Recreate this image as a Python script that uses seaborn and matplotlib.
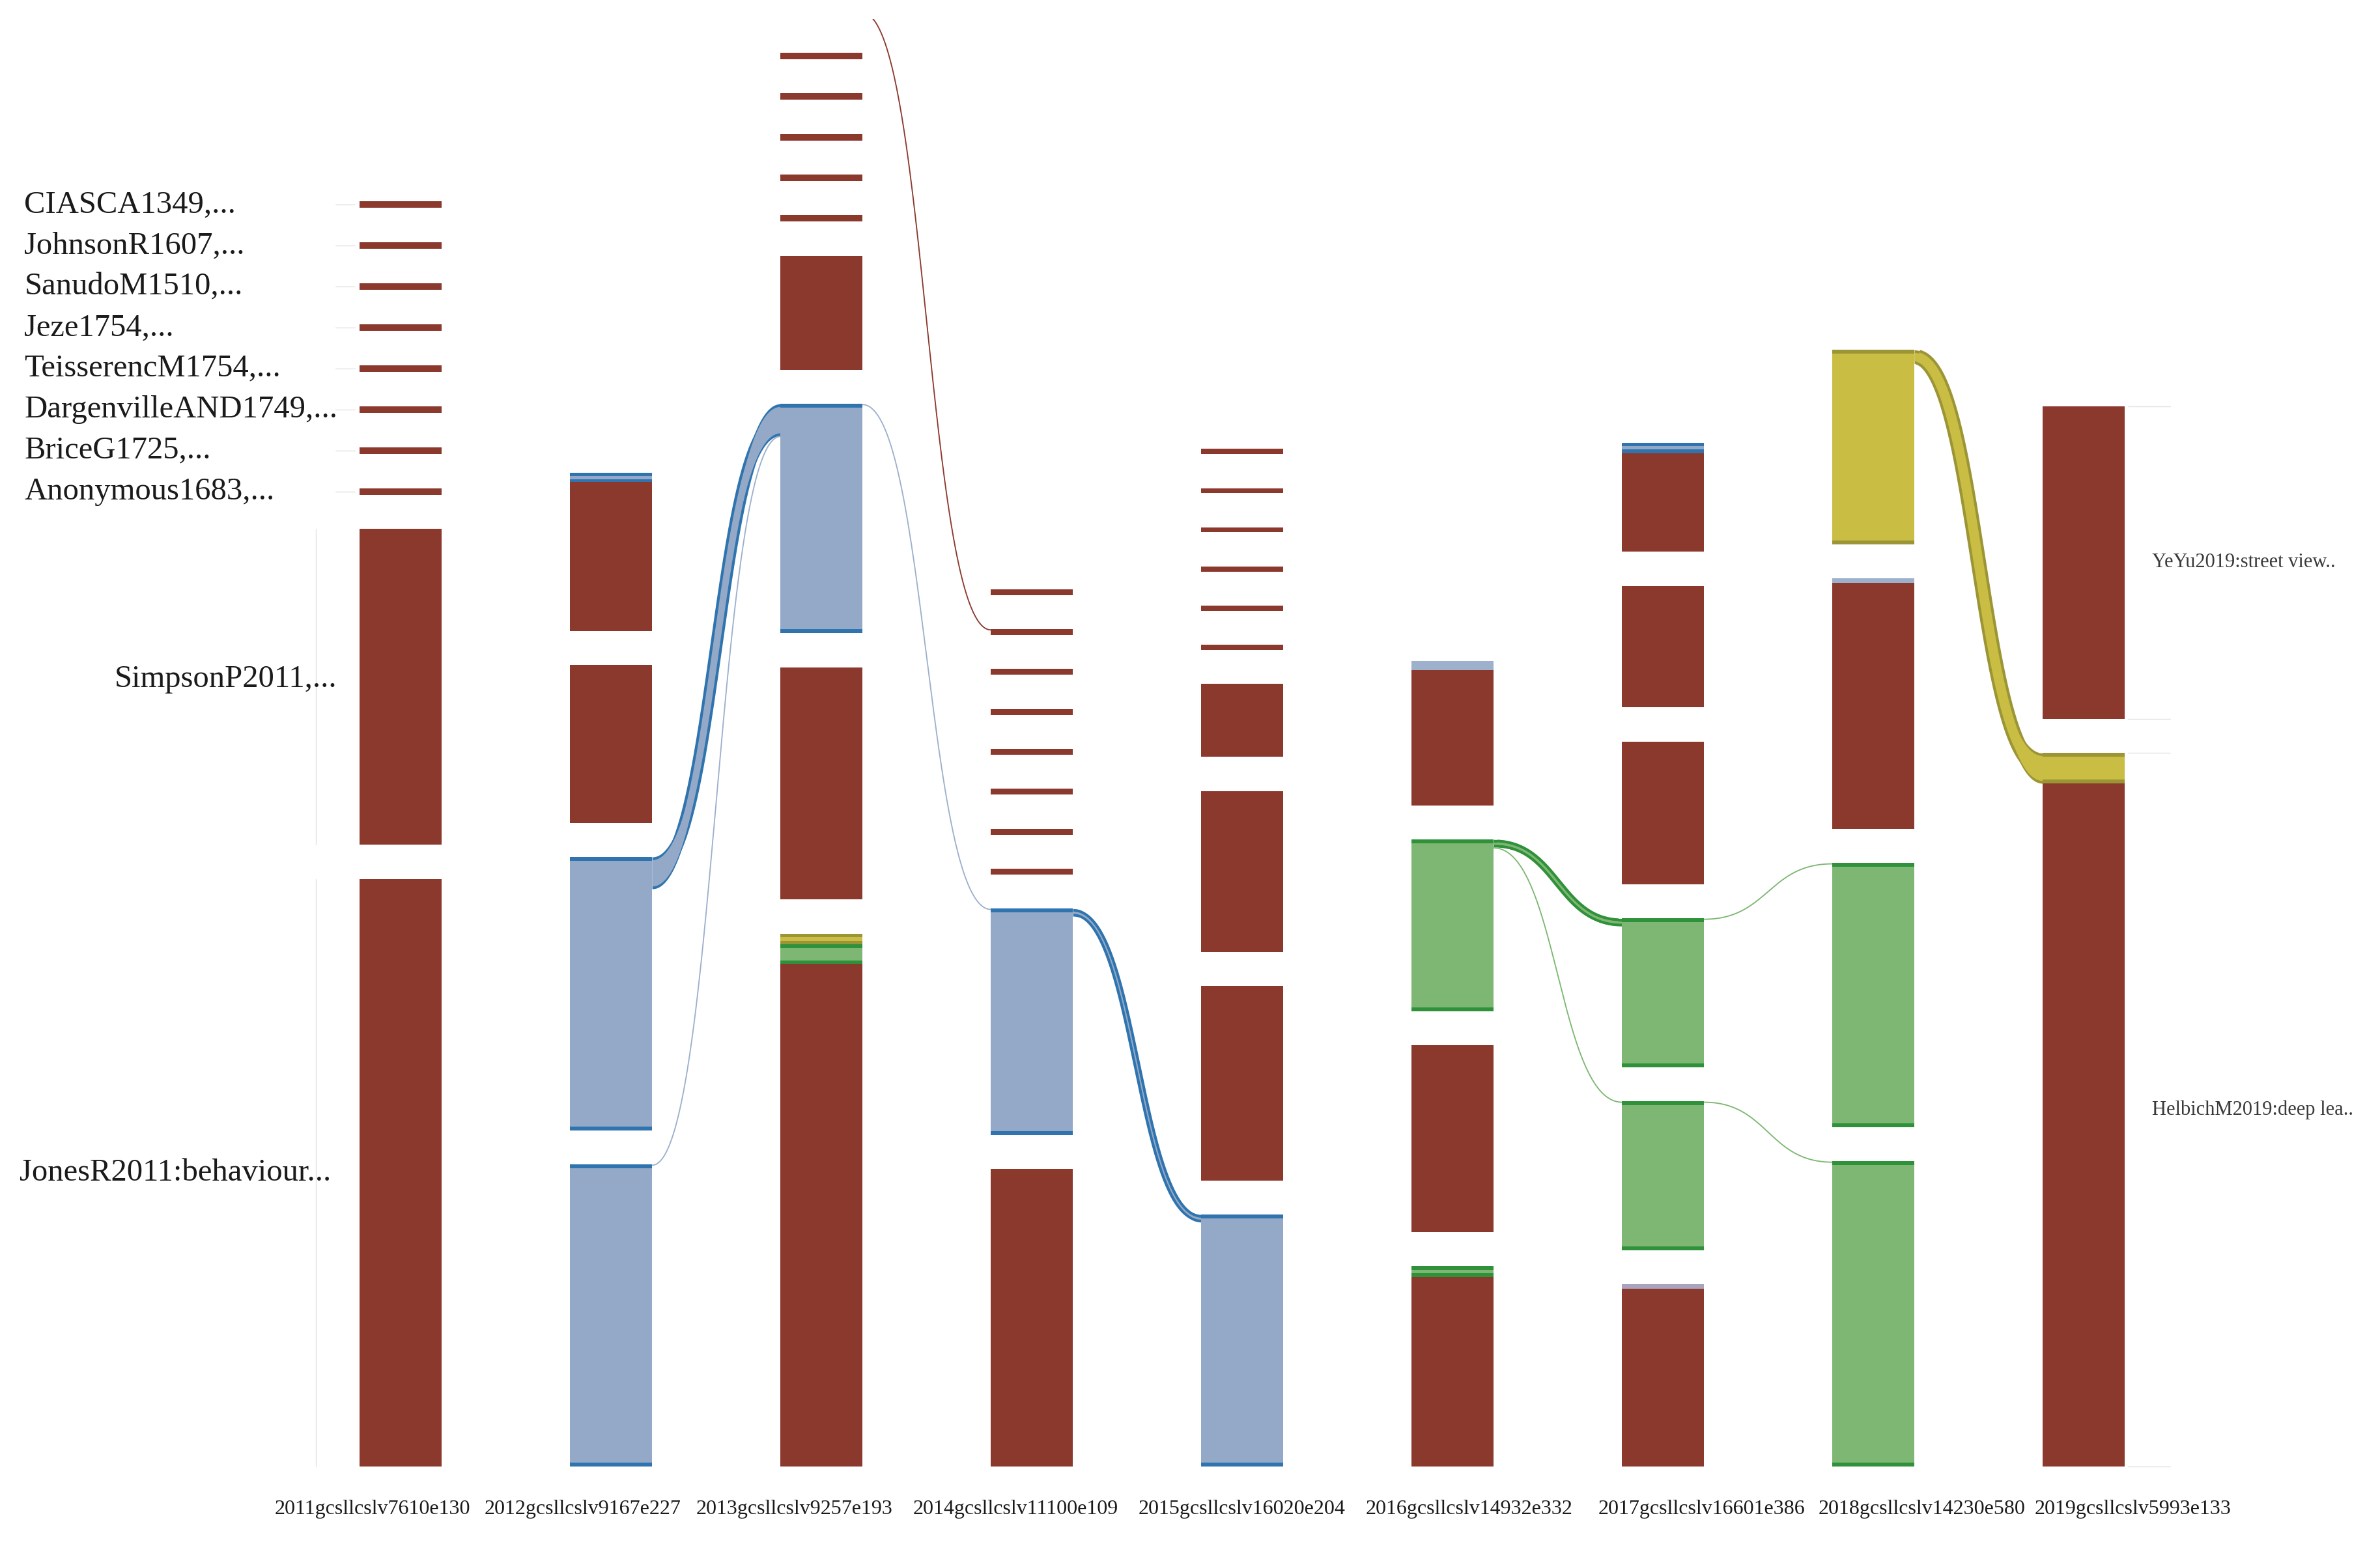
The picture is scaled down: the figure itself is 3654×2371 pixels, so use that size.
import numpy as np
import matplotlib
matplotlib.use("Agg")
import matplotlib.pyplot as plt
from matplotlib.patches import Rectangle
import seaborn as sns

# column titles (bottom)
years = ["2011gcsllcslv7610e130", "2012gcsllcslv9167e227", "2013gcsllcslv9257e193",
         "2014gcsllcslv11100e109", "2015gcsllcslv16020e204", "2016gcsllcslv14932e332",
         "2017gcsllcslv16601e386", "2018gcsllcslv14230e580", "2019gcsllcslv5993e133"]

# nodes of each column, top to bottom; each node = list of (cluster, size) segments
col_2011 = [[("R", 4.5)]] * 8 + [[("R", 208)], [("R", 387)]]
col_2012 = [[("B", 6), ("R", 98)], [("R", 104)], [("B", 180)], [("B", 199)]]
col_2013 = [[("R", 4.25)]] * 6 + [[("R", 75)], [("B", 151)], [("R", 153)],
                                  [("Y", 7), ("G", 13), ("R", 331)]]
col_2014 = [[("R", 3.8)]] * 8 + [[("B", 149)], [("R", 196)]]
col_2015 = [[("R", 3.3)]] * 6 + [[("R", 48)], [("R", 106)], [("R", 128)], [("B", 166)]]
col_2016 = [[("b", 6), ("R", 89)], [("G", 113)], [("R", 123)], [("G", 7), ("R", 125)]]
col_2017 = [[("B", 7), ("R", 65)], [("R", 80)], [("R", 94)], [("G", 98)], [("G", 98)],
            [("p", 3), ("R", 117)]]
col_2018 = [[("Y", 128)], [("b", 3), ("R", 162)], [("G", 174)], [("G", 201)]]
col_2019 = [[("R", 206)], [("Y", 20), ("R", 450)]]
columns = [col_2011, col_2012, col_2013, col_2014, col_2015, col_2016, col_2017, col_2018, col_2019]

# flows: source column, source node, target node (next column),
# width at source, width at target, width midway, cluster  (width 0 = a single thread)
flows = [
    (1, 2, 7, 21, 21, 8, "B"),
    (1, 3, 7, 0, 0, 0, "b"),
    (2, 0, 1, 0, 0, 0, "R"),
    (2, 7, 8, 0, 0, 0, "b"),
    (3, 8, 9, 5, 5, 4.5, "B"),
    (5, 1, 3, 5, 5, 5, "G"),
    (5, 1, 4, 0, 0, 0, "g"),
    (6, 3, 2, 0, 0, 0, "g"),
    (6, 4, 3, 0, 0, 0, "g"),
    (7, 0, 1, 9, 20, 10, "Y"),
]

left_labels = ["CIASCA1349,...", "JohnsonR1607,...", "SanudoM1510,...", "Jeze1754,...",
               "TeisserencM1754,...", "DargenvilleAND1749,...", "BriceG1725,...",
               "Anonymous1683,...", "SimpsonP2011,...", "JonesR2011:behaviour..."]
right_labels = ["YeYu2019:street view..", "HelbichM2019:deep lea.."]

# colours: (fill, dark edge)
pal = {
    "R": ("#8C392D", None),
    "B": ("#94A9C7", "#2F74AE"),
    "G": ("#7EB773", "#2F913A"),
    "Y": ("#C9BD44", "#9C9535"),
    "b": ("#9DB0CC", None),
    "g": ("#7EB773", None),
    "p": ("#A9A3BF", None),
}

sns.set_theme(style="white")
plt.rcParams["font.family"] = ["Liberation Serif", "DejaVu Serif"]

fig = plt.figure(figsize=(36.54, 23.71), dpi=100)
ax = fig.add_axes([0, 0, 1, 1])
ax.set_xlim(0, 1568)
ax.set_ylim(1017, 0)
ax.axis("off")

X0, DX, W, GAP, BASE = 264, 138.6, 54, 22.5, 966
PT = 3654 / 1568 * 0.72  # points per layout unit
STRIPE = 2.5
EDGE = 1.8
label_x = [245.5, 384, 523.5, 669, 818, 968, 1121, 1266, 1405]

# layout: bottom aligned stacks
node_pos = []
for ci, col in enumerate(columns):
    total = sum(sum(v for _, v in n) for n in col) + GAP * (len(col) - 1)
    y = BASE - total
    pos = []
    for n in col:
        h = sum(v for _, v in n)
        pos.append([y, h])
        y += h + GAP
    node_pos.append(pos)

xc = [X0 + i * DX for i in range(len(columns))]

# nodes
for ci, col in enumerate(columns):
    for ni, n in enumerate(col):
        y = node_pos[ci][ni][0]
        for cl, v in n:
            fill, dark = pal[cl]
            ax.bar(xc[ci], v, bottom=y, width=W, color=fill, linewidth=0, zorder=2)
            if dark is not None:
                s = min(STRIPE, v / 3)
                ax.bar(xc[ci], s, bottom=y, width=W, color=dark, linewidth=0, zorder=2)
                ax.bar(xc[ci], s, bottom=y + v - s, width=W, color=dark, linewidth=0, zorder=2)
            y += v


def curve(x0, y0, x1, y1, n=160):
    t = np.linspace(0, 1, n)
    xm = (x0 + x1) / 2
    x = (1 - t) ** 3 * x0 + 3 * (1 - t) ** 2 * t * xm + 3 * (1 - t) * t ** 2 * xm + t ** 3 * x1
    s = 3 * t ** 2 - 2 * t ** 3
    return x, y0 + (y1 - y0) * s


out_off = {}
in_off = {}
for sc, sn, tn, w0, w1, wm, cl in flows:
    fill, dark = pal[cl]
    oy = node_pos[sc][sn][0] + out_off.get((sc, sn), 0)
    iy = node_pos[sc + 1][tn][0] + in_off.get((sc + 1, tn), 0)
    x0 = xc[sc] + W / 2
    x1 = xc[sc + 1] - W / 2
    if w0 == 0:
        x, y = curve(x0, oy + 0.5, x1, iy + 0.5)
        ax.plot(x, y, color=fill, lw=0.8 * PT, zorder=1, solid_capstyle="butt")
        out_off[(sc, sn)] = out_off.get((sc, sn), 0) + 1
        in_off[(sc + 1, tn)] = in_off.get((sc + 1, tn), 0) + 1
    else:
        x, yu = curve(x0, oy, x1, iy)
        _, yl = curve(x0, oy + w0, x1, iy + w1)
        _, ym = curve(x0, oy + w0 / 2, x1, iy + w1 / 2)
        # dark outer shape, then light inner shape
        ax.fill_between(x, yu, yl, color=dark, linewidth=0, zorder=1)
        ax.plot(x[3:-3], ym[3:-3], color=dark, lw=wm * PT, zorder=1, solid_capstyle="butt")
        ax.fill_between(x, yu + EDGE, yl - EDGE, color=fill, linewidth=0, zorder=1.1)
        if wm > 2 * EDGE + 0.5:
            ax.plot(x[3:-3], ym[3:-3], color=fill, lw=(wm - 2 * EDGE) * PT, zorder=1.1,
                    solid_capstyle="butt")
        out_off[(sc, sn)] = out_off.get((sc, sn), 0) + w0
        in_off[(sc + 1, tn)] = in_off.get((sc + 1, tn), 0) + w1

# the picture is cut at the top: nothing above this line shows
clip = Rectangle((0, 12.5), 1568, 1010, transform=ax.transData)
for art in list(ax.patches) + list(ax.collections) + list(ax.lines):
    art.set_clip_path(clip)

# faint brackets
faint = "#E3E3E3"
for ni, (y, h) in enumerate(node_pos[0]):
    if h > 20:
        ax.plot([208, 208], [y, y + h], color=faint, lw=0.6 * PT, zorder=0)
    else:
        ax.plot([221, 234], [y + h / 2, y + h / 2], color=faint, lw=0.6 * PT, zorder=0)
for y, h in node_pos[-1]:
    ax.plot([1402, 1430], [y, y], color=faint, lw=0.6 * PT, zorder=0)
    ax.plot([1402, 1430], [y + h, y + h], color=faint, lw=0.6 * PT, zorder=0)

# left labels
for ni, lab in enumerate(left_labels):
    y, h = node_pos[0][ni]
    if lab.startswith("Simpson"):
        ax.text(222, y + h / 2 - 5, lab, ha="right", va="center", fontsize=35, color="#1a1a1a")
    elif lab.startswith("Jones"):
        ax.text(13, y + h / 2, lab, ha="left", va="center", fontsize=35, color="#1a1a1a")
    else:
        ax.text(16, y + h / 2, lab, ha="left", va="center", fontsize=35, color="#1a1a1a")

# right labels
for ni, lab in enumerate(right_labels):
    y, h = node_pos[-1][ni]
    ax.text(1418, y + h / 2, lab, ha="left", va="center", fontsize=22, color="#3a3a3a")

# column labels
for ci, lab in enumerate(years):
    ax.text(label_x[ci], 994, lab, ha="center", va="center", fontsize=23, color="#1a1a1a")

fig.savefig("out.png", dpi=100, facecolor="white")
